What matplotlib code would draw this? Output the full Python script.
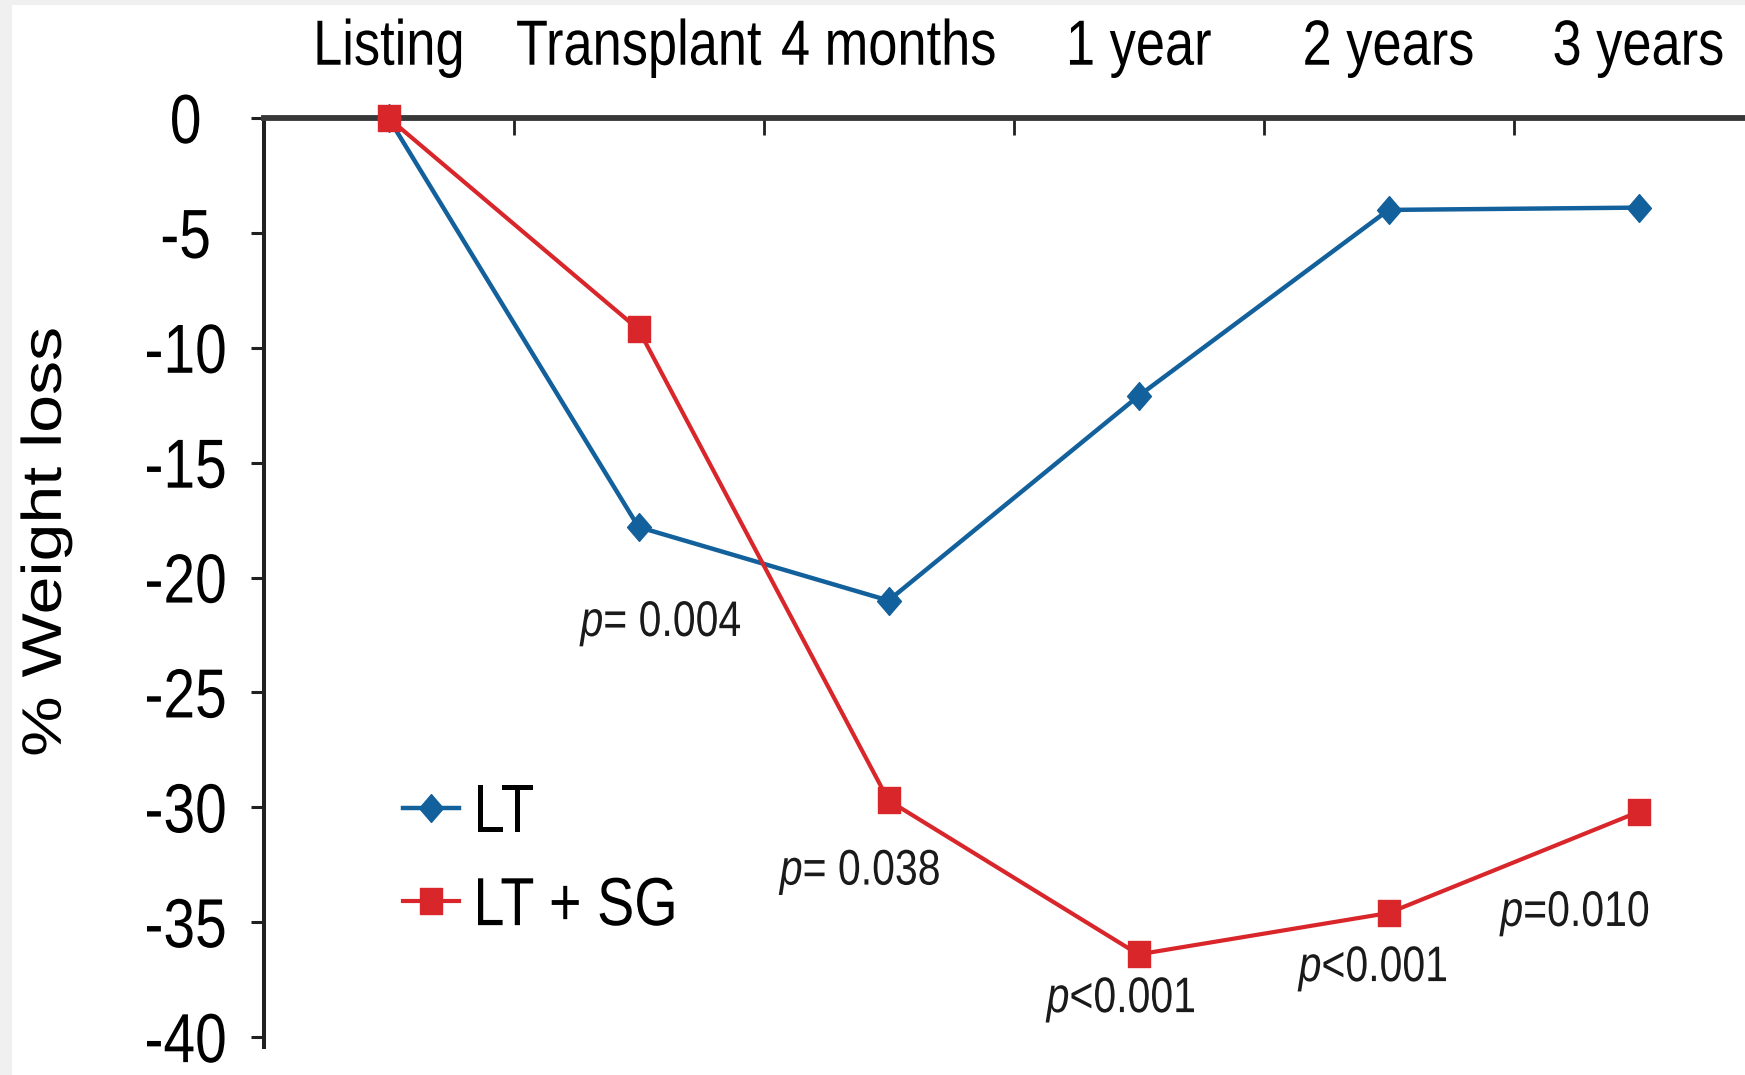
import numpy as np
import matplotlib
matplotlib.use("Agg")
import matplotlib.pyplot as plt
from matplotlib.patches import Rectangle
from matplotlib.path import Path
from matplotlib.lines import Line2D
from matplotlib.patheffects import AbstractPathEffect
from matplotlib.transforms import Affine2D

# ---- data ----
categories = ["Listing", "Transplant", "4 months", "1 year", "2 years", "3 years"]
lt = [0.0, -17.8, -21.0, -12.1, -4.0, -3.9]
lt_sg = [0.0, -9.2, -29.7, -36.4, -34.6, -30.2]
y_ticks = [0, -5, -10, -15, -20, -25, -30, -35, -40]
y_tick_labels = ["0", "-5", "-10", "-15", "-20", "-25", "-30", "-35", "-40"]
p_labels = [r"$\mathit{p}$= 0.004", r"$\mathit{p}$= 0.038", r"$\mathit{p}$<0.001",
            r"$\mathit{p}$<0.001", r"$\mathit{p}$=0.010"]
series_names = ["LT", "LT + SG"]

# ---- style ----
plt.rcParams["font.family"] = ["Liberation Sans", "DejaVu Sans"]
plt.rcParams["axes.unicode_minus"] = False
plt.rcParams["mathtext.fontset"] = "custom"
plt.rcParams["mathtext.it"] = "Liberation Sans:italic"
plt.rcParams["mathtext.rm"] = "Liberation Sans"

BLUE = "#12609c"
RED = "#d8262b"
SQUEEZE = 0.82  # condensed lettering


class HSqueeze(AbstractPathEffect):
    """Compress glyphs horizontally around an anchor of their ink box."""

    def __init__(self, sx=SQUEEZE, anchor="center"):
        super().__init__()
        self.sx = sx
        self.anchor = anchor

    def draw_path(self, renderer, gc, tpath, affine, rgbFace=None):
        bb = tpath.get_extents(affine)
        if self.anchor == "right":
            x0 = bb.x1
        elif self.anchor == "left":
            x0 = bb.x0
        else:
            x0 = 0.5 * (bb.x0 + bb.x1)
        squeezed = affine + Affine2D().translate(-x0, 0).scale(self.sx, 1).translate(x0, 0)
        renderer.draw_path(gc, tpath, squeezed, rgbFace)


W, H = 1745, 1075
fig = plt.figure(figsize=(W / 100, H / 100), dpi=100)
fig.patch.set_facecolor("#f0f0f0")
fig.add_artist(Rectangle((12 / W, 0), 1, 1 - 5 / H, transform=fig.transFigure,
                         facecolor="white", edgecolor="none", zorder=-5))

# slightly narrow markers
square = Path([(-0.42, -0.5), (0.42, -0.5), (0.42, 0.5), (-0.42, 0.5), (-0.42, -0.5)],
              [Path.MOVETO, Path.LINETO, Path.LINETO, Path.LINETO, Path.CLOSEPOLY])
diamond = Path([(0, -0.5), (0.43, 0), (0, 0.5), (-0.43, 0), (0, -0.5)],
               [Path.MOVETO, Path.LINETO, Path.LINETO, Path.LINETO, Path.CLOSEPOLY])

ax = fig.add_axes([263.5 / W, (H - 1047) / H, 1500 / W, (1047 - 118) / H])
ax.set_facecolor("none")
ax.set_xlim(-0.5, 5.5)
ax.set_ylim(-40.43, 0)

x = np.arange(len(categories))
blue_style = dict(color=BLUE, lw=3.2, marker=diamond, ms=20, mec=BLUE, mfc=BLUE)
red_style = dict(color=RED, lw=3.0, marker=square, ms=18.5, mec=RED, mfc=RED)
ax.plot(x, lt, clip_on=False, zorder=4, **blue_style)
ax.plot(x, lt_sg, clip_on=False, zorder=5, **red_style)

# spines
ax.spines["right"].set_visible(False)
ax.spines["bottom"].set_visible(False)
ax.spines["top"].set_color("#383838")
ax.spines["top"].set_linewidth(4.2)
ax.spines["left"].set_color("#202020")
ax.spines["left"].set_linewidth(2.9)

# x axis on top: boundary ticks + category labels between them
ax.set_xticks(x[:-1] + 0.5)
ax.set_xticklabels([])
ax.set_xticks(x, minor=True)
ax.set_xticklabels(categories, minor=True)
ax.tick_params(axis="x", which="major", top=True, bottom=False, direction="in",
               length=12, width=2.0, color="#202020", labeltop=False, labelbottom=False)
ax.tick_params(axis="x", which="minor", top=True, bottom=False, length=0,
               labeltop=True, labelbottom=False, pad=29, labelsize=46)

# y tick labels are centred in a column left of the axis
ax.set_yticks(y_ticks)
ax.set_yticklabels(y_tick_labels)
ax.tick_params(axis="y", direction="out", length=9.5, width=2.2, color="#202020",
               pad=46.5, labelsize=50)

for lbl in ax.get_xticklabels(minor=True):
    lbl.set_path_effects([HSqueeze(anchor="center")])
for lbl in ax.get_yticklabels():
    lbl.set_horizontalalignment("center")
    lbl.set_path_effects([HSqueeze(anchor="center")])

ylab = fig.text(46 / W, 1 - 542 / H, "% Weight loss", rotation=90, ha="center",
                va="center", fontsize=49)
ylab.set_path_effects([HSqueeze(anchor="center")])

# significance annotations
p_pos = [(1.094, -21.98), (1.89, -32.8), (2.934, -38.35), (3.942, -37.0), (4.75, -34.6)]
for (px, py), lab in zip(p_pos, p_labels):
    t = ax.text(px, py, lab, ha="center", va="center", fontsize=36, color="#1a1a1a")
    t.set_path_effects([HSqueeze(anchor="center")])

handles = [Line2D([], [], **blue_style), Line2D([], [], **red_style)]
leg = ax.legend(handles, series_names, loc="center left",
                bbox_to_anchor=(403 / W, 1 - 860.5 / H), bbox_transform=fig.transFigure,
                frameon=False, fontsize=49, handlelength=0.82, handletextpad=0.2,
                labelspacing=0.43, borderpad=0, borderaxespad=0)
for t in leg.get_texts():
    t.set_path_effects([HSqueeze(anchor="left")])

fig.savefig("out.png", dpi=100, facecolor=fig.get_facecolor())
